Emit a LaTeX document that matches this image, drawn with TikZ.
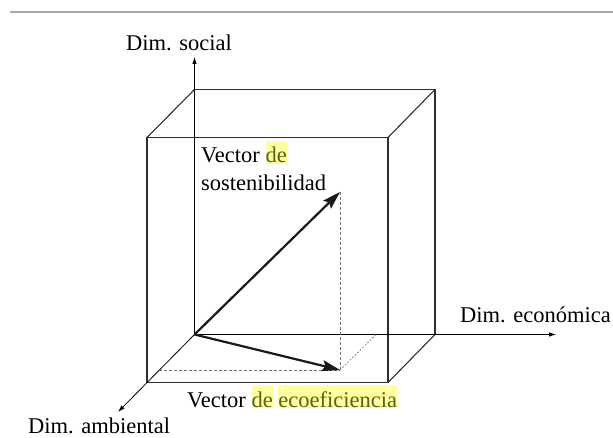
\documentclass[tikz,border=0pt]{standalone}
\usepackage{fontspec}
\setmainfont{Liberation Serif}
\usepackage{xcolor}
\usepackage{tikz}
\usetikzlibrary{positioning,arrows.meta}
\definecolor{hlyellow}{HTML}{FFFF9C}
\definecolor{hlolive}{HTML}{5E5E22}
\definecolor{rulegray}{HTML}{A8A8A8}
\definecolor{edgedark}{HTML}{2E2E2E}
\newcommand{\hlmark}[1]{{\setlength{\fboxsep}{0pt}\colorbox{hlyellow}{\rule[-1pt]{0pt}{23pt}\textcolor{hlolive}{#1}}}}

\begin{document}
\begin{tikzpicture}[
  x=1pt, y=-1pt,
  lbl/.style={inner sep=0pt, anchor=base west, font=\fontsize{22.5}{28}\selectfont},
  axis/.style={draw=black, line width=0.8pt, -{Latex[length=7pt,width=4.5pt]}},
  edge/.style={draw=edgedark, line width=1.1pt},
  vec/.style={draw=black!90, line width=2.2pt, -{Stealth[length=18pt,width=11pt,inset=3pt]}},
  guide/.style={draw=black!55, line width=0.7pt, dash pattern=on 3pt off 2pt},
  dotguide/.style={draw=black!55, line width=0.8pt, dash pattern=on 1.5pt off 2pt},
]
\useasboundingbox (0,0) rectangle (613,438);
\draw[rulegray, line width=2pt] (10,12.5) -- (613,12.5);

% box: back face on the axes, front face shifted down-left
\coordinate (O) at (194.5,334.5);
\coordinate (btl) at (194.5,89.5);
\coordinate (btr) at (435,89.5);
\coordinate (bbr) at (435,334.5);
\coordinate (ftl) at (147,137.5);
\coordinate (ftr) at (388,137.5);
\coordinate (fbr) at (388,382.5);
\coordinate (fbl) at (147,382.5);
\draw[edge] (ftl) -- (ftr) -- (fbr) -- (fbl) -- cycle;
\draw[edge] (btl) -- (btr) -- (bbr);
\draw[edge] (ftl) -- (btl);
\draw[edge] (ftr) -- (btr);
\draw[edge] (fbr) -- (bbr);

% axes
\coordinate (ysoc) at (194.5,57);
\coordinate (xeco) at (556,334.5);
\coordinate (zamb) at (118,412);
\draw[axis] (O) -- (ysoc);
\draw[axis] (O) -- (xeco);
\draw[axis] (O) -- (zamb);

% projections
\coordinate (S) at (340,192);
\coordinate (P) at (340,370);
\coordinate (Px) at (376,334.5);
\coordinate (Pz) at (158.5,370);
\draw[guide] (S) -- (P);
\draw[guide] (Pz) -- (P);
\draw[dotguide] (P) -- (Px);

% vectors
\draw[vec] (O) -- (S);
\draw[vec] (O) -- (P);

\node[lbl] (lblsocial) at (126,51) {Dim. social};
\node[lbl] (lbleco) at (460,323) {Dim. económica};
\node[lbl] (lblamb) at (28,433) {Dim. ambiental};
\node[lbl] (lblsost1) at (201,162.7) {Vector \hlmark{de}};
\node[lbl] (lblsost2) at ([yshift=-28.3pt]lblsost1.base west) {sostenibilidad};
\node[lbl] (lbleff) at (187,407) {Vector \hlmark{de} \hlmark{ecoeficiencia}};
\end{tikzpicture}
\end{document}
